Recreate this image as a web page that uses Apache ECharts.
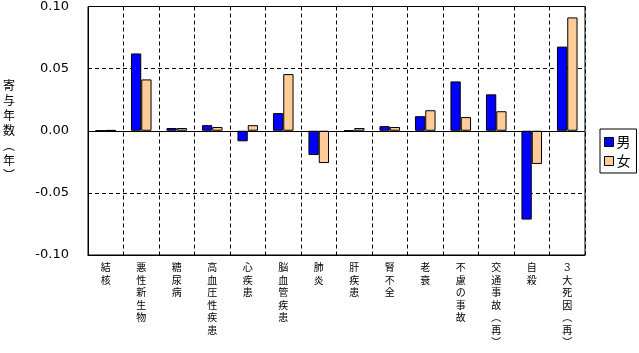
<!DOCTYPE html>
<html>
<head>
<meta charset="utf-8">
<script src="https://cdn.jsdelivr.net/npm/echarts@6/dist/echarts.min.js"></script>
<style>
  html, body { margin: 0; padding: 0; background: #fff; }
  #chart { width: 639px; height: 353px; }
</style>
</head>
<body>
<div id="chart"></div>
<script>
const categories = [
  "結核", "悪性新生物", "糖尿病", "高血圧性疾患", "心疾患", "脳血管疾患", "肺炎",
  "肝疾患", "腎不全", "老衰", "不慮の事故", "交通事故︵再︶", "自殺", "３大死因︵再︶",
];
const maleValues = [0, 0.0622, 0.0022, 0.0045, -0.0085, 0.0142, -0.0195,
  0, 0.0037, 0.0117, 0.0397, 0.0293, -0.0715, 0.0677];
const femaleValues = [0.0005, 0.0413, 0.0022, 0.003, 0.0045, 0.0456, -0.026,
  0.0022, 0.003, 0.0165, 0.011, 0.0157, -0.0267, 0.0912];
const yTicks = [-0.1, -0.05, 0, 0.05, 0.1];
const yName = "寄与年数︵年︶";

const chart = echarts.init(document.getElementById("chart"));
const jp = "'Noto Sans CJK JP', sans-serif";
const dash = { color: "#000", width: 1, type: [4, 3] };

const option = {
  backgroundColor: "#fff",
  animation: false,
  grid: {
    left: 80, right: 54, top: 5, bottom: 98,
    show: true, borderColor: "#000", borderWidth: 1,
  },
  legend: {
    orient: "vertical",
    left: 600, top: 129,
    padding: [6, 6, 5, 4],
    icon: "rect",
    itemWidth: 9, itemHeight: 9, itemGap: 5,
    borderColor: "#000", borderWidth: 1, borderRadius: 0,
    textStyle: { fontFamily: jp, fontSize: 14, color: "#000", padding: [0, 0, 0, -2] },
    itemStyle: { borderColor: "#000", borderWidth: 1 },
    data: ["男", "女"],
  },
  xAxis: {
    type: "category",
    data: categories,
    axisLine: { onZero: false, lineStyle: { color: "#000" } },
    axisTick: { show: false },
    splitLine: { show: true, interval: 0, lineStyle: dash },
    axisLabel: {
      interval: 0,
      margin: 6,
      fontFamily: jp,
      fontSize: 10,
      lineHeight: 12.5,
      color: "#000",
      formatter: (v) => v.split("").join("\n"),
    },
  },
  yAxis: {
    type: "value",
    min: yTicks[0],
    max: yTicks[yTicks.length - 1],
    interval: 0.05,
    name: yName.split("").join("\n"),
    nameLocation: "middle",
    nameRotate: 0,
    nameGap: 73,
    nameTextStyle: { fontFamily: jp, fontSize: 12, lineHeight: 15, color: "#000" },
    axisLine: { show: true, lineStyle: { color: "#000" } },
    axisTick: { show: false },
    splitLine: { lineStyle: dash },
    axisLabel: {
      margin: 19,
      fontFamily: "'DejaVu Sans', sans-serif",
      fontSize: 13,
      color: "#000",
      formatter: (v) => v.toFixed(2),
    },
  },
  series: [
    {
      name: "男",
      type: "bar",
      data: maleValues,
      barGap: "0%",
      barCategoryGap: "42%",
      itemStyle: { color: "#0000ff", borderColor: "#000", borderWidth: 1 },
      markLine: {
        silent: true,
        symbol: "none",
        label: { show: false },
        lineStyle: { color: "#000", width: 1, type: "solid" },
        data: [{ yAxis: 0 }],
      },
    },
    {
      name: "女",
      type: "bar",
      data: femaleValues,
      itemStyle: { color: "#ffcc99", borderColor: "#000", borderWidth: 1 },
    },
  ],
};

chart.setOption(option);
</script>
</body>
</html>
